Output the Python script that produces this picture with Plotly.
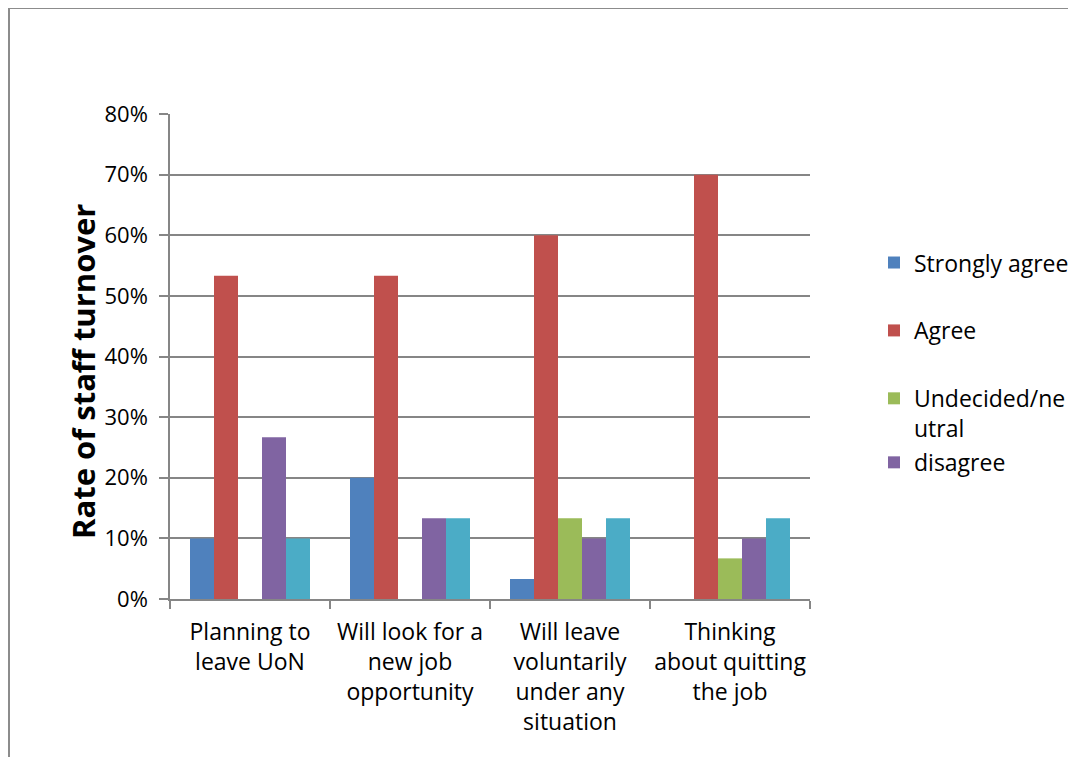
import plotly.graph_objects as go

categories = ["Planning to<br>leave UoN", "Will look for a<br>new job<br>opportunity",
              "Will leave<br>voluntarily<br>under any<br>situation", "Thinking<br>about quitting<br>the job"]
strongly_agree = [0.10, 0.20, 0.033, 0.0]
agree = [0.533, 0.533, 0.60, 0.70]
undecided = [0.0, 0.0, 0.133, 0.067]
disagree = [0.267, 0.133, 0.10, 0.10]
strongly_disagree = [0.10, 0.133, 0.133, 0.133]
y_title = "Rate of staff turnover"

series = [
    ("Strongly agree", strongly_agree, "#4F81BD", True, "legend"),
    ("Agree", agree, "#C0504D", True, "legend"),
    ("Undecided/ne<br>utral", undecided, "#9BBB59", True, "legend"),
    ("disagree", disagree, "#8064A2", True, "legend2"),
    ("Strongly disagree", strongly_disagree, "#4BACC6", False, "legend"),
]

FONT = "Open Sans"
FS = 23
fig = go.Figure()
for i, (name, vals, color, show, leg) in enumerate(series):
    fig.add_trace(go.Bar(x=categories, y=vals, name=name, marker_color=color,
                         marker_line_width=0, showlegend=show, legendgroup=f"g{i}",
                         legend=leg))

# page has an 8px body margin; figure coordinates are page minus 8
OFF = 8
W, H = 1076 - OFF, 765 - 2 * OFF
L, T = 170 - OFF, 114 - OFF
pw, ph = 640, 485
R, B = W - L - pw, H - T - ph

legend_common = dict(xanchor="left", yanchor="top", traceorder="grouped",
                     tracegroupgap=35, valign="top",
                     font=dict(family=FONT, size=FS), itemwidth=30,
                     bgcolor="rgba(0,0,0,0)")

fig.update_layout(
    width=W, height=H,
    margin=dict(l=L, r=R, t=T, b=B, autoexpand=False),
    paper_bgcolor="white", plot_bgcolor="white",
    barmode="group", bargap=0.25, bargroupgap=0,
    font=dict(family=FONT, size=FS, color="black"),
    legend=dict(x=1.1, y=0.738, **legend_common),
    legend2=dict(x=1.1, y=0.326, **legend_common),
    xaxis=dict(showline=True, linecolor="#868686", linewidth=1.5,
               ticks="outside", tickson="boundaries", ticklen=8, tickcolor="#868686",
               tickwidth=1.5, tickfont=dict(size=FS), tickangle=0,
               ticklabelstandoff=12),
    yaxis=dict(range=[0, 0.8], dtick=0.1, tickformat=".0%",
               showgrid=True, gridcolor="#868686", gridwidth=1.5,
               showline=True, linecolor="#868686", linewidth=1.5,
               ticks="outside", ticklen=9, tickcolor="#868686", tickwidth=1.5,
               tickfont=dict(size=22), zeroline=False, ticklabelstandoff=7),
)

fig.add_annotation(text=f"<b>{y_title}</b>", textangle=-90, showarrow=False,
                   xref="paper", yref="paper", x=(83 - 170) / pw, y=(599 - 372) / ph,
                   xanchor="center", yanchor="middle", font=dict(size=31, family=FONT))

fig.add_shape(type="rect", xref="paper", yref="paper",
              x0=(9 - OFF - L) / pw, x1=(W + 20 - L) / pw,
              y0=-(H + 20 - T - ph) / ph, y1=1 + (T - (8 - OFF)) / ph,
              line=dict(color="#8C8C8C", width=2), layer="below")

fig.write_html("out.html")
